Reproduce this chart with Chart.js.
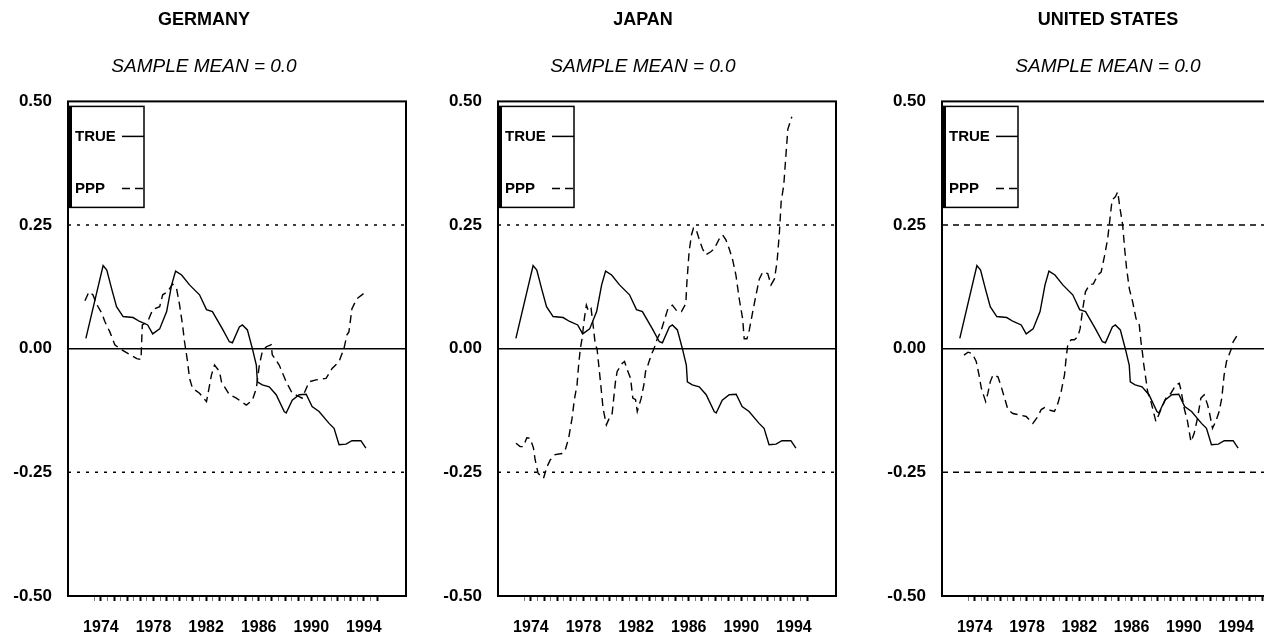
<!DOCTYPE html>
<html>
<head>
<meta charset="utf-8">
<title>True vs PPP real exchange rates</title>
<script src="https://cdn.jsdelivr.net/npm/chart.js@4.4.1/dist/chart.umd.min.js"></script>
<style>
  html, body { margin: 0; padding: 0; background: #fff; overflow: hidden; }
  body { width: 1264px; height: 639px; position: relative; }
  .panel { position: absolute; top: 0; height: 639px; }
  #p1 { left: 0; width: 408px; }
  #p2 { left: 430px; width: 426px; }
  #p3 { left: 874px; width: 468px; }
</style>
</head>
<body>
<div class="panel" id="p1"><canvas id="c1"></canvas></div>
<div class="panel" id="p2"><canvas id="c2"></canvas></div>
<div class="panel" id="p3"><canvas id="c3"></canvas></div>
<script>
const FONT = '"Liberation Sans", Arial, Helvetica, sans-serif';

// === TEXTOS E EIXOS ===
const countries = ['GERMANY', 'JAPAN', 'UNITED STATES'];
const subtitleText = 'SAMPLE MEAN = 0.0';
const seriesNames = ['TRUE', 'PPP'];
const yTickValues = [-0.5, -0.25, 0, 0.25, 0.5];
const yearLabels = [1974, 1978, 1982, 1986, 1990, 1994];
const bandLevels = [0.25, -0.25];
const zeroLevel = 0;
const X_MIN = 1971.5, X_MAX = 1997.2;

// === SERIE "TRUE" (igual nos tres paineis) ===
const trueYears = [1972.86, 1974.17, 1974.45, 1974.81, 1975.19, 1975.69, 1976.45, 1976.95, 1977.56, 1977.94,
  1978.47, 1979.0, 1979.38, 1979.68, 1980.14, 1980.74, 1981.5, 1982.03, 1982.48, 1983.24,
  1983.77, 1984.0, 1984.53, 1984.76, 1985.14, 1985.52, 1985.82, 1985.9, 1986.27, 1986.8,
  1987.33, 1987.94, 1988.09, 1988.55, 1989.08, 1989.61, 1990.06, 1990.59, 1991.35, 1991.73,
  1992.11, 1992.64, 1993.09, 1993.77, 1994.15];
const trueVals = [0.021, 0.168, 0.159, 0.122, 0.085, 0.065, 0.063, 0.055, 0.048, 0.030,
  0.040, 0.075, 0.129, 0.157, 0.149, 0.129, 0.109, 0.079, 0.075, 0.040,
  0.014, 0.012, 0.044, 0.048, 0.038, 0.0, -0.033, -0.067, -0.073, -0.077,
  -0.093, -0.127, -0.130, -0.104, -0.093, -0.092, -0.117, -0.127, -0.151, -0.161,
  -0.194, -0.193, -0.186, -0.186, -0.201];

// === PPP ALEMANHA ===
const deYears = [1972.79, 1973.09, 1973.39, 1973.70, 1974.08, 1974.30, 1974.68, 1975.06, 1975.44, 1975.82,
  1976.2, 1976.73, 1977.05, 1977.15, 1977.56, 1977.94, 1978.47, 1978.7, 1979.08, 1979.45,
  1979.76, 1979.98, 1980.21, 1980.36, 1980.59, 1980.74, 1980.97, 1981.5, 1982.03, 1982.41,
  1982.64, 1983.02, 1983.17, 1983.77, 1984.3, 1985.06, 1985.52, 1985.82, 1986.05, 1986.27,
  1986.58, 1986.95, 1987.03, 1987.56, 1988.09, 1988.55, 1989.08, 1989.3, 1989.83, 1990.36,
  1991.12, 1991.58, 1992.11, 1992.48, 1992.71, 1992.86, 1993.09, 1993.47, 1994.15];
const deVals = [0.097, 0.115, 0.109, 0.089, 0.071, 0.055, 0.034, 0.008, 0.0, -0.006,
  -0.012, -0.020, -0.022, 0.048, 0.055, 0.079, 0.085, 0.109, 0.115, 0.131,
  0.121, 0.089, 0.048, 0.014, -0.026, -0.060, -0.080, -0.090, -0.107, -0.053,
  -0.033, -0.046, -0.067, -0.093, -0.100, -0.114, -0.104, -0.080, -0.033, -0.006,
  0.004, 0.008, -0.012, -0.033, -0.067, -0.090, -0.097, -0.100, -0.067, -0.063,
  -0.060, -0.040, -0.026, 0.0, 0.028, 0.034, 0.081, 0.101, 0.115];

// === PPP JAPAO ===
const jpYears = [1972.87, 1973.18, 1973.43, 1973.69, 1973.94, 1974.19, 1974.32, 1974.55, 1974.96, 1975.22,
  1975.47, 1975.85, 1976.36, 1976.61, 1976.87, 1977.13, 1977.3, 1977.51, 1977.63, 1977.76,
  1977.89, 1978.06, 1978.22, 1978.39, 1978.58, 1978.73, 1978.9, 1979.03, 1979.16, 1979.34,
  1979.49, 1979.74, 1979.92, 1980.18, 1980.3, 1980.43, 1980.56, 1980.94, 1981.12, 1981.32,
  1981.58, 1981.75, 1981.96, 1982.09, 1982.39, 1982.59, 1982.72, 1982.9, 1983.16, 1983.36,
  1983.61, 1983.87, 1984.12, 1984.42, 1984.76, 1985.14, 1985.45, 1985.78, 1985.85, 1986.03,
  1986.21, 1986.36, 1986.54, 1986.79, 1987.05, 1987.3, 1987.68, 1987.94, 1988.32, 1988.58,
  1988.83, 1989.08, 1989.34, 1989.59, 1989.84, 1990.1, 1990.22, 1990.43, 1990.61, 1990.87,
  1991.12, 1991.37, 1991.63, 1992.01, 1992.26, 1992.52, 1992.72, 1992.9, 1993.03, 1993.23,
  1993.41, 1993.54, 1993.84];
const jpVals = [-0.191, -0.198, -0.198, -0.180, -0.181, -0.200, -0.224, -0.252, -0.262, -0.239,
  -0.225, -0.214, -0.212, -0.205, -0.181, -0.141, -0.104, -0.073, -0.033, 0.0,
  0.020, 0.060, 0.088, 0.075, 0.081, 0.048, 0.008, 0.0, -0.033, -0.080,
  -0.121, -0.154, -0.143, -0.131, -0.100, -0.067, -0.046, -0.030, -0.026, -0.042,
  -0.060, -0.100, -0.103, -0.127, -0.100, -0.073, -0.046, -0.033, -0.012, 0.0,
  0.020, 0.034, 0.055, 0.081, 0.088, 0.075, 0.075, 0.091, 0.129, 0.196,
  0.230, 0.244, 0.243, 0.222, 0.202, 0.190, 0.196, 0.202, 0.222, 0.230,
  0.220, 0.202, 0.180, 0.149, 0.101, 0.061, 0.020, 0.020, 0.038, 0.075,
  0.109, 0.141, 0.155, 0.152, 0.129, 0.141, 0.176, 0.236, 0.297, 0.331,
  0.398, 0.444, 0.469];

// === PPP ESTADOS UNIDOS ===
const usYears = [1973.18, 1973.49, 1973.82, 1974.12, 1974.33, 1974.51, 1974.84, 1975.01, 1975.19, 1975.4,
  1975.78, 1976.03, 1976.29, 1976.54, 1976.92, 1977.43, 1977.94, 1978.45, 1978.83, 1979.09,
  1979.34, 1979.85, 1980.1, 1980.36, 1980.61, 1980.87, 1980.99, 1981.12, 1981.38, 1981.63,
  1981.88, 1982.06, 1982.27, 1982.47, 1982.77, 1983.08, 1983.41, 1983.67, 1983.92, 1984.17,
  1984.35, 1984.51, 1984.76, 1984.94, 1985.12, 1985.32, 1985.47, 1985.62, 1985.83, 1986.08,
  1986.34, 1986.59, 1986.72, 1986.85, 1986.9, 1987.05, 1987.23, 1987.48, 1987.86, 1988.25,
  1988.63, 1989.01, 1989.39, 1989.65, 1989.77, 1990.03, 1990.28, 1990.54, 1990.79, 1991.04,
  1991.3, 1991.55, 1991.81, 1991.94, 1992.19, 1992.44, 1992.7, 1992.9, 1993.08, 1993.26,
  1993.59, 1993.77, 1994.05];
const usVals = [-0.013, -0.007, -0.010, -0.026, -0.053, -0.080, -0.107, -0.090, -0.067, -0.053,
  -0.057, -0.077, -0.100, -0.123, -0.131, -0.134, -0.137, -0.151, -0.137, -0.123,
  -0.119, -0.125, -0.127, -0.111, -0.087, -0.053, -0.020, 0.008, 0.018, 0.018,
  0.024, 0.040, 0.081, 0.115, 0.129, 0.131, 0.149, 0.155, 0.186, 0.222,
  0.263, 0.301, 0.307, 0.317, 0.283, 0.250, 0.202, 0.162, 0.121, 0.095,
  0.061, 0.048, 0.014, -0.012, -0.026, -0.053, -0.087, -0.107, -0.147, -0.123,
  -0.100, -0.090, -0.073, -0.070, -0.083, -0.121, -0.147, -0.188, -0.171, -0.141,
  -0.100, -0.093, -0.113, -0.127, -0.161, -0.147, -0.127, -0.100, -0.053, -0.026,
  -0.003, 0.014, 0.026];

const PPP_DASH = [8, 5];

const pts = (xs, ys) => xs.map((x, i) => ({ x: x, y: ys[i] }));
const level = v => [{ x: X_MIN, y: v }, { x: X_MAX, y: v }];

// moldura do grafico + legenda em caixa
const framePlugin = {
  id: 'frame',
  afterDraw(chart) {
    const ctx = chart.ctx;
    const a = chart.chartArea;
    ctx.save();
    ctx.strokeStyle = '#000';
    ctx.lineWidth = 2;
    ctx.strokeRect(a.left, a.top, a.right - a.left, a.bottom - a.top);

    // caixa da legenda
    const bx = a.left + 1, by = a.top + 5;
    ctx.lineWidth = 1.5;
    ctx.strokeRect(bx, by, 75, 101);
    ctx.lineWidth = 3;
    ctx.beginPath();
    ctx.moveTo(bx + 1.5, by);
    ctx.lineTo(bx + 1.5, by + 101);
    ctx.stroke();

    ctx.fillStyle = '#000';
    ctx.font = 'bold 15px ' + FONT;
    ctx.textBaseline = 'middle';
    ctx.textAlign = 'left';
    const rows = [a.top + 35, a.top + 87];
    seriesNames.forEach((name, i) => {
      ctx.fillText(name, a.left + 7, rows[i]);
      ctx.lineWidth = 1.5;
      ctx.setLineDash(i === 0 ? [] : PPP_DASH);
      ctx.beginPath();
      ctx.moveTo(a.left + 54, rows[i]);
      ctx.lineTo(a.left + 76, rows[i]);
      ctx.stroke();
    });
    ctx.restore();
  }
};

const panels = [
  { id: 'c1', name: countries[0], years: deYears, vals: deVals, rightPad: 2, bandDash: [3, 6], lastTick: 1995 },
  { id: 'c2', name: countries[1], years: jpYears, vals: jpVals, rightPad: 20, bandDash: [3, 6], lastTick: 1995 },
  { id: 'c3', name: countries[2], years: usYears, vals: usVals, rightPad: 64, bandDash: [6, 5], lastTick: 1997 }
];

panels.forEach(p => {
  const refLine = (v, dash) => ({
    label: 'ref', data: level(v), borderColor: '#000', borderWidth: 1.5,
    borderDash: dash, pointRadius: 0
  });

  new Chart(document.getElementById(p.id), {
    type: 'line',
    data: {
      datasets: [
        { label: seriesNames[0], data: pts(trueYears, trueVals), borderColor: '#000', borderWidth: 1.4, pointRadius: 0 },
        { label: seriesNames[1], data: pts(p.years, p.vals), borderColor: '#000', borderWidth: 1.4, borderDash: PPP_DASH, pointRadius: 0 },
        refLine(zeroLevel, []),
        refLine(bandLevels[0], p.bandDash),
        refLine(bandLevels[1], p.bandDash)
      ]
    },
    options: {
      responsive: true,
      maintainAspectRatio: false,
      animation: false,
      events: [],
      layout: { padding: 0 },
      plugins: {
        legend: { display: false },
        tooltip: { enabled: false },
        title: {
          display: true, text: p.name, color: '#000',
          font: { family: FONT, size: 18, weight: 'bold' },
          padding: { top: 9, bottom: 0 }
        },
        subtitle: {
          display: true, text: subtitleText, color: '#000',
          font: { family: FONT, size: 19, style: 'italic', weight: 'normal' },
          padding: { top: 25, bottom: 23 }
        }
      },
      scales: {
        x: {
          type: 'linear', min: X_MIN, max: X_MAX,
          afterBuildTicks: s => {
            const t = [];
            for (let h = 1973.5 * 2; h <= p.lastTick * 2; h++) t.push({ value: h / 2 });
            s.ticks = t;
          },
          afterFit: s => { s.height = 43; },
          border: { display: false },
          grid: {
            drawOnChartArea: false, drawTicks: true, tickLength: 5,
            tickWidth: c => Number.isInteger(c.tick.value) ? 2 : 1,
            tickColor: c => Number.isInteger(c.tick.value) ? '#000' : '#777'
          },
          ticks: {
            autoSkip: false, maxRotation: 0, padding: 17, color: '#000',
            font: { family: FONT, size: 16, weight: 'bold' },
            callback: v => yearLabels.includes(v) ? String(v) : ''
          }
        },
        y: {
          min: -0.5, max: 0.5,
          afterBuildTicks: s => { s.ticks = yTickValues.map(v => ({ value: v })); },
          afterFit: s => { s.width = 68; },
          border: { display: false },
          grid: { display: false, drawTicks: false },
          ticks: {
            padding: 16, color: '#000',
            font: { family: FONT, size: 17, weight: 'bold' },
            callback: v => v.toFixed(2)
          }
        },
        yR: {
          position: 'right', min: -0.5, max: 0.5,
          afterFit: s => { s.width = p.rightPad; },
          border: { display: false },
          grid: { display: false },
          ticks: { display: false }
        }
      }
    },
    plugins: [framePlugin]
  });
});
</script>
</body>
</html>
